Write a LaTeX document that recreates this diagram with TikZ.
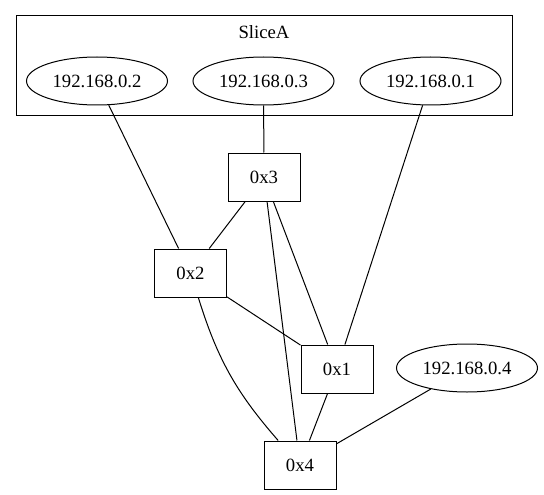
\documentclass[tikz,border=0pt]{standalone}
\usepackage{fontspec}
\setmainfont{Liberation Serif}
\usetikzlibrary{shapes.geometric}
\begin{document}
\begin{tikzpicture}[x=1pt,y=-1pt,
  every node/.style={font=\fontsize{18.7}{22}\selectfont, line width=1pt},
  host/.style={draw, ellipse, minimum width=141, minimum height=48, inner sep=0pt},
  sw/.style={draw, rectangle, minimum width=72, minimum height=48, inner sep=0pt},
  cluster/.style={draw, rectangle, minimum width=496, minimum height=100, inner sep=0pt},
  link/.style={line width=1pt}]
\useasboundingbox (0,0) rectangle (544,495);
% cluster frame and its title
\node[cluster] (slice) at (264,66) {};
\node (slicelabel) at (264,32) {SliceA};
% hosts
\node[host] (h2) at (97,81) {192.168.0.2};
\node[host] (h3) at (263.5,81) {192.168.0.3};
\node[host] (h1) at (430.5,81) {192.168.0.1};
\node[host] (h4) at (467,368) {192.168.0.4};
% switches
\node[sw] (s3) at (264,177) {0x3};
\node[sw] (s2) at (190.5,273) {0x2};
\node[sw] (s1) at (337,369) {0x1};
\node[sw] (s4) at (300,465) {0x4};
% links
\draw[link] (h2) -- (s2);
\draw[link] (h3) -- (s3);
\draw[link] (h1) -- (s1);
\draw[link] (s3) -- (s2);
\draw[link] (s3) -- (s1);
\draw[link] (s3) -- (s4);
\draw[link] (s2) -- (s1);
\draw[link] (s2) to[bend right=12] (s4);
\draw[link] (s1) -- (s4);
\draw[link] (h4) -- (s4);
\end{tikzpicture}
\end{document}
